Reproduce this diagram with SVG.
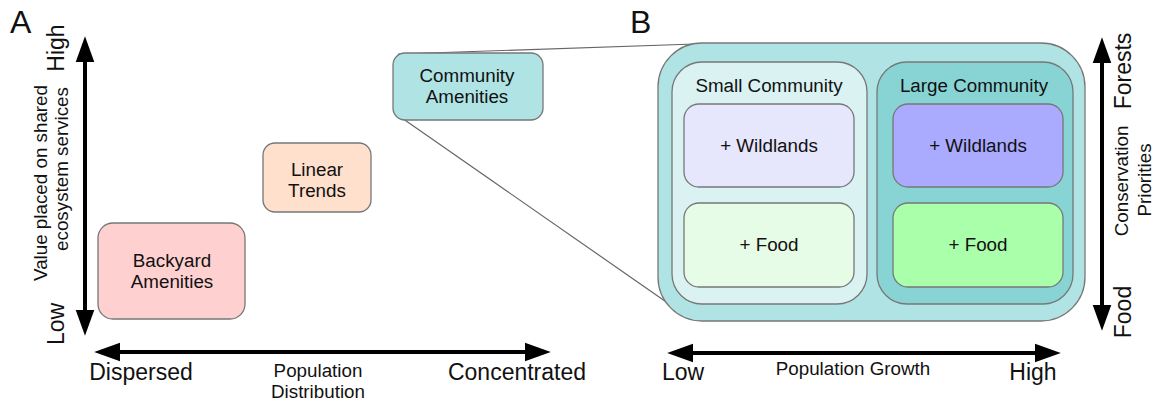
<svg xmlns="http://www.w3.org/2000/svg" width="1153" height="402" viewBox="0 0 1153 402">
<style>
text{font-family:"Liberation Sans",Arial,sans-serif;fill:#111}
.t{font-size:18.8px;text-anchor:middle}
.big{font-size:23px}
.lab{font-size:32px}
.box{stroke:#777;stroke-width:1.3}
.ax{stroke:#000;stroke-width:4;fill:none;marker-start:url(#ah);marker-end:url(#ah)}
.zl{stroke:#666;stroke-width:1.2;fill:none}
</style>
<defs>
<marker id="ah" markerUnits="userSpaceOnUse" markerWidth="26" markerHeight="20" viewBox="0 0 25 18" refX="5" refY="9" orient="auto-start-reverse">
<path d="M0,0 L25,9 L0,18 z" fill="#000"/>
</marker>
</defs>
<rect width="1153" height="402" fill="#fff"/>
<text class="lab" x="10" y="33">A</text>
<text class="lab" x="630" y="33">B</text>
<g id="connectors">
<line class="zl" x1="398" y1="54" x2="695" y2="44"/>
<line class="zl" x1="399" y1="116" x2="672" y2="306"/>
<line class="ax" x1="85" y1="57" x2="85" y2="315"/>
<line class="ax" x1="115" y1="352" x2="530" y2="352"/>
<line class="ax" x1="688" y1="353" x2="1040" y2="353"/>
<line class="ax" x1="1102" y1="58" x2="1102" y2="310"/>
</g>
<g id="axis-labels">
<text class="big" transform="translate(64,48) rotate(-90)" text-anchor="middle">High</text>
<text class="big" transform="translate(64,324) rotate(-90)" text-anchor="middle">Low</text>
<text class="t" transform="translate(47,183) rotate(-90)">Value placed on shared</text>
<text class="t" transform="translate(68,169) rotate(-90)">ecosystem services</text>
<text class="big" x="141" y="380" text-anchor="middle">Dispersed</text>
<text class="t" x="318" y="377">Population</text>
<text class="t" x="318" y="398">Distribution</text>
<text class="big" x="517" y="380" text-anchor="middle">Concentrated</text>
<text class="big" x="683" y="380" text-anchor="middle">Low</text>
<text class="t" x="853" y="375">Population Growth</text>
<text class="big" x="1033" y="380" text-anchor="middle">High</text>
<text class="big" transform="translate(1131,71) rotate(-90)" text-anchor="middle">Forests</text>
<text class="t" transform="translate(1128,181) rotate(-90)">Conservation</text>
<text class="t" transform="translate(1151,180) rotate(-90)">Priorities</text>
<text class="big" transform="translate(1131,312) rotate(-90)" text-anchor="middle">Food</text>
</g>
<g id="backyard">
<rect class="box" x="98" y="223" width="147" height="96" rx="15" fill="#ffd0d0"/>
<text class="t" x="172" y="267">Backyard</text>
<text class="t" x="172" y="288">Amenities</text>
</g>
<g id="linear">
<rect class="box" x="263" y="143" width="108" height="69" rx="12" fill="#ffe0cc"/>
<text class="t" x="317" y="176">Linear</text>
<text class="t" x="317" y="197">Trends</text>
</g>
<g id="community">
<rect class="box" x="393" y="53" width="150" height="67" rx="12" fill="#b0e4e4"/>
<text class="t" x="467" y="82">Community</text>
<text class="t" x="467" y="103">Amenities</text>
</g>
<g id="panel-b">
<rect class="box" x="658" y="43" width="427" height="278" rx="44" fill="#b0e4e4"/>
</g>
<g id="small-community">
<rect class="box" x="672" y="62" width="195" height="242" rx="30" fill="#daf2f2"/>
<text class="t" x="769" y="92">Small Community</text>
</g>
<g id="large-community">
<rect class="box" x="877" y="62" width="196" height="242" rx="30" fill="#88d4d4"/>
<text class="t" x="974" y="92">Large Community</text>
</g>
<g id="small-wildlands">
<rect class="box" x="684" y="104" width="170" height="83" rx="15" fill="#e6e6fc"/>
<text class="t" x="769" y="152">+ Wildlands</text>
</g>
<g id="small-food">
<rect class="box" x="684" y="203" width="170" height="84" rx="15" fill="#e6fce6"/>
<text class="t" x="769" y="251">+ Food</text>
</g>
<g id="large-wildlands">
<rect class="box" x="893" y="104" width="170" height="83" rx="15" fill="#aaaaff"/>
<text class="t" x="978" y="152">+ Wildlands</text>
</g>
<g id="large-food">
<rect class="box" x="893" y="203" width="170" height="84" rx="15" fill="#aaffaa"/>
<text class="t" x="978" y="251">+ Food</text>
</g>
</svg>
